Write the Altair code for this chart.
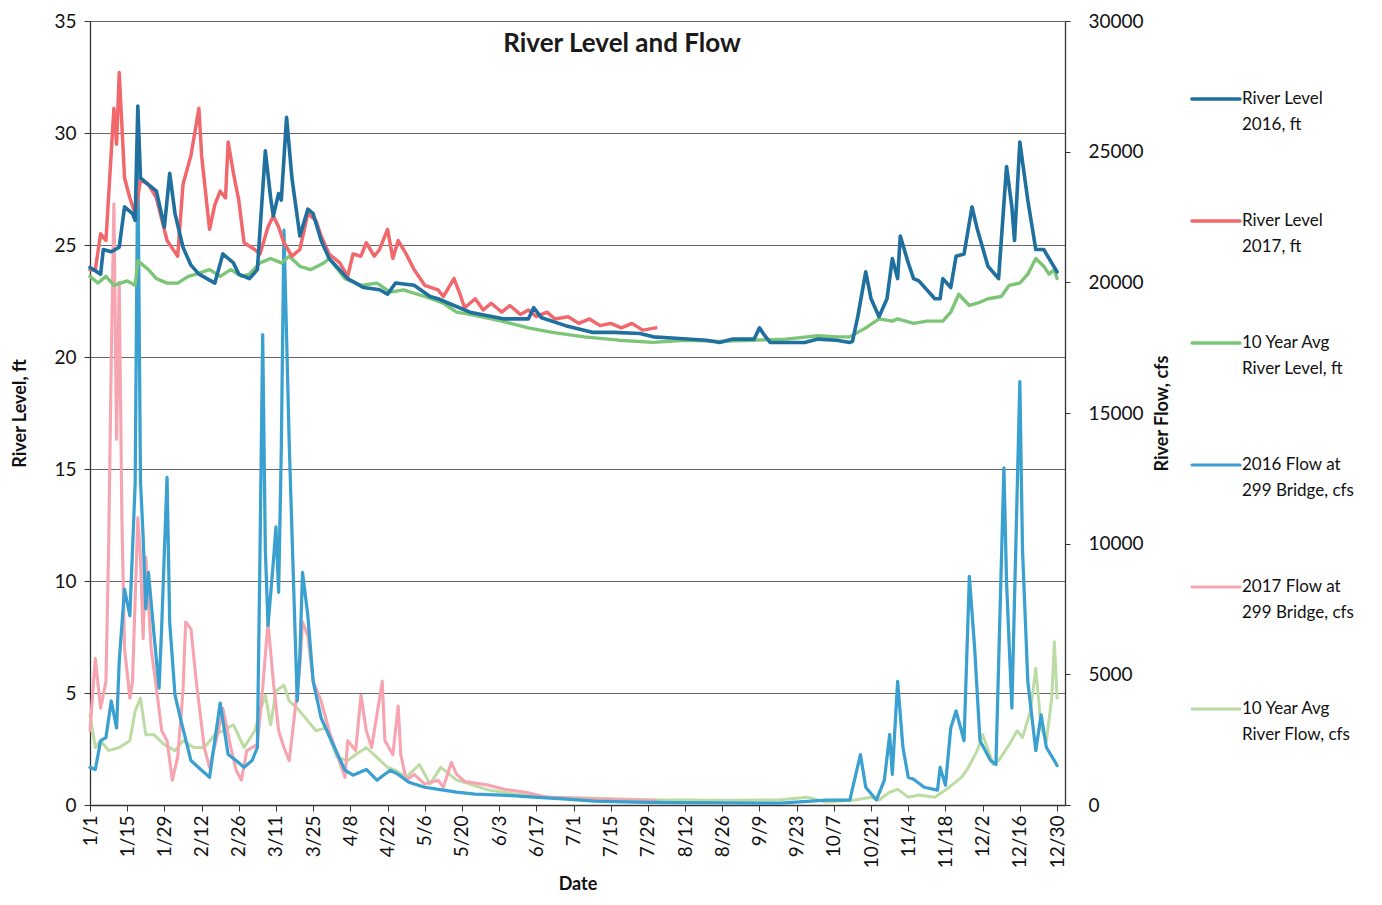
import json
import altair as alt
import pandas as pd

# ---------------- axis text ----------------
TICK_LABELS = ["1/1", "1/15", "1/29", "2/12", "2/26", "3/11", "3/25", "4/8", "4/22",
               "5/6", "5/20", "6/3", "6/17", "7/1", "7/15", "7/29", "8/12", "8/26",
               "9/9", "9/23", "10/7", "10/21", "11/4", "11/18", "12/2", "12/16", "12/30"]
TICK_DAYS = [0, 14, 28, 42, 56, 70, 84, 98, 112, 126, 140, 154, 168, 182, 196, 210,
             224, 238, 252, 266, 280, 294, 308, 322, 336, 350, 364]
LEVEL_TICKS = [0, 5, 10, 15, 20, 25, 30, 35]
FLOW_TICKS = [0, 5000, 10000, 15000, 20000, 25000, 30000]

SERIES = ["River Level|2016, ft", "River Level|2017, ft", "10 Year Avg|River Level, ft",
          "2016 Flow at|299 Bridge, cfs", "2017 Flow at|299 Bridge, cfs", "10 Year Avg|River Flow, cfs"]
COLORS = ["#1f6f9f", "#f0686c", "#7cc576", "#3aa0d0", "#f6a5b0", "#bcdca4"]
WIDTHS = [3.6, 3.0, 2.2, 2.8, 2.2, 2.4]

# ---------------- data (day of year, value) ----------------
level_2016 = [(0, 24.0), (4, 23.7), (5, 24.8), (8, 24.7), (11, 24.9), (13, 26.7), (16, 26.4),
              (17, 26.1), (18, 31.2), (19, 28.0), (22, 27.7), (25, 27.4), (28, 25.8), (30, 28.2),
              (32, 26.4), (35, 24.9), (38, 24.1), (41, 23.7), (47, 23.3), (50, 24.6), (54, 24.2),
              (56, 23.7), (60, 23.5), (63, 23.9), (66, 29.2), (68, 27.1), (69, 26.3), (71, 27.3),
              (72, 27.0), (74, 30.7), (76, 28.0), (79, 25.4), (82, 26.6), (84, 26.4), (87, 25.2),
              (90, 24.4), (97, 23.5), (103, 23.1), (109, 23.0), (112, 22.8), (115, 23.3),
              (122, 23.2), (128, 22.7), (131, 22.6), (135, 22.4), (143, 22.0), (156, 21.7),
              (165, 21.7), (167, 22.2), (170, 21.75), (179, 21.4), (189, 21.1), (197, 21.1),
              (207, 21.05), (212, 20.9), (219, 20.85), (232, 20.75), (237, 20.65), (242, 20.8),
              (250, 20.8), (252, 21.3), (254, 20.95), (256, 20.65), (263, 20.65), (269, 20.65),
              (274, 20.8), (281, 20.75), (286, 20.65), (287, 20.7), (289, 21.8), (292, 23.8),
              (294, 22.6), (297, 21.8), (300, 22.6), (302, 24.4), (304, 23.5), (305, 25.4),
              (308, 24.2), (310, 23.5), (312, 23.4), (318, 22.6), (320, 22.6), (321, 23.5),
              (324, 23.1), (326, 24.5), (329, 24.6), (332, 26.7), (334, 25.7), (338, 24.05),
              (342, 23.5), (345, 28.5), (347, 26.7), (348, 25.2), (350, 29.6), (353, 27.0),
              (356, 24.8), (359, 24.8), (363, 24.0), (364, 23.8)]

level_2017 = [(0, 23.9), (2, 23.9), (4, 25.5), (6, 25.2), (9, 31.1), (10, 29.5), (11, 32.7),
              (13, 28.0), (15, 27.1), (17, 26.4), (19, 27.9), (22, 27.7), (25, 27.1), (29, 25.2),
              (33, 24.5), (35, 27.7), (38, 29.0), (41, 31.1), (42, 29.0), (45, 25.7), (47, 26.8),
              (49, 27.4), (51, 27.1), (52, 29.6), (54, 28.2), (56, 27.0), (58, 25.1), (62, 24.8),
              (64, 24.6), (67, 25.8), (69, 26.3), (71, 25.8), (73, 25.1), (76, 24.5), (79, 24.8),
              (82, 26.4), (85, 26.1), (87, 25.4), (90, 24.6), (94, 24.2), (97, 23.6), (99, 24.6),
              (102, 24.5), (104, 25.1), (107, 24.5), (109, 24.8), (112, 25.7), (114, 24.4),
              (116, 25.2), (119, 24.6), (122, 23.9), (126, 23.2), (131, 23.0), (133, 22.7),
              (137, 23.5), (139, 22.9), (141, 22.2), (145, 22.6), (148, 22.1), (151, 22.4),
              (155, 22.0), (158, 22.3), (162, 21.9), (165, 22.1), (168, 21.8), (172, 22.0),
              (175, 21.7), (180, 21.8), (184, 21.5), (188, 21.7), (192, 21.4), (196, 21.5),
              (200, 21.3), (204, 21.5), (208, 21.2), (213, 21.3)]

level_avg = [(0, 23.6), (3, 23.3), (6, 23.6), (9, 23.2), (14, 23.4), (17, 23.2), (18, 24.3),
             (22, 23.9), (25, 23.5), (29, 23.3), (33, 23.3), (37, 23.6), (40, 23.7), (45, 23.9),
             (49, 23.6), (53, 23.9), (57, 23.6), (60, 23.7), (64, 24.2), (68, 24.4), (72, 24.2),
             (75, 24.5), (79, 24.05), (83, 23.9), (88, 24.2), (90, 24.4), (96, 23.5), (102, 23.2),
             (108, 23.3), (113, 22.9), (118, 23.0), (126, 22.7), (133, 22.4), (138, 22.0),
             (143, 21.9), (155, 21.6), (165, 21.3), (174, 21.1), (186, 20.9), (199, 20.75),
             (212, 20.65), (224, 20.75), (237, 20.7), (250, 20.75), (262, 20.8), (274, 20.95),
             (281, 20.9), (286, 20.9), (292, 21.3), (297, 21.7), (302, 21.6), (304, 21.7),
             (310, 21.5), (315, 21.6), (321, 21.6), (324, 22.0), (327, 22.8), (331, 22.3),
             (334, 22.4), (338, 22.6), (343, 22.7), (346, 23.2), (350, 23.3), (353, 23.7),
             (356, 24.4), (359, 24.05), (361, 23.7), (363, 23.9), (364, 23.5)]

flow_2016 = [(0, 1440), (2, 1360), (4, 2460), (6, 2580), (8, 3980), (10, 2950), (11, 5490),
             (13, 8260), (15, 7240), (16, 9770), (17, 12300), (18, 25000), (19, 12400),
             (20, 10270), (21, 7500), (22, 8900), (24, 6630), (26, 4470), (27, 6860), (29, 12540),
             (30, 7000), (32, 4200), (34, 3330), (38, 1700), (42, 1330), (45, 1060), (49, 3900),
             (52, 1930), (55, 1700), (58, 1440), (61, 1700), (63, 2200), (64, 9770), (65, 18000),
             (66, 9770), (67, 6860), (69, 9280), (70, 10640), (71, 8140), (72, 13560),
             (73, 22000), (75, 13800), (77, 7240), (78, 3980), (79, 5720), (80, 8900), (82, 7240),
             (84, 4730), (87, 3330), (92, 2200), (96, 1330), (99, 1140), (104, 1360), (108, 950),
             (113, 1330), (116, 1170), (120, 870), (126, 680), (133, 570), (138, 490), (145, 420),
             (155, 380), (167, 300), (178, 230), (190, 150), (205, 110), (220, 90), (240, 80),
             (260, 70), (277, 190), (286, 190), (290, 1930), (292, 680), (296, 190), (299, 950),
             (301, 2690), (302, 1170), (304, 4730), (306, 2200), (308, 1060), (310, 985),
             (314, 680), (319, 570), (320, 1440), (322, 760), (324, 2950), (326, 3600),
             (329, 2460), (331, 8750), (333, 5980), (335, 2460), (339, 1700), (341, 1550),
             (344, 12900), (345, 8520), (347, 3710), (350, 16200), (351, 9770), (353, 4730),
             (356, 2080), (358, 3450), (360, 2200), (363, 1700), (364, 1510)]

flow_2017 = [(0, 2840), (2, 5600), (4, 3700), (6, 4730), (7, 9770), (8, 17000), (9, 23000),
             (10, 14000), (11, 20000), (12, 11000), (13, 6000), (15, 4090), (16, 4730),
             (18, 11000), (19, 9500), (20, 6360), (21, 9500), (23, 6000), (25, 4470), (27, 2840),
             (29, 2460), (31, 950), (33, 1820), (35, 4360), (36, 7000), (38, 6740), (40, 4730),
             (43, 2200), (45, 1440), (48, 2690), (50, 3700), (53, 2200), (55, 1330), (57, 950),
             (59, 2080), (63, 2310), (65, 4470), (67, 7000), (69, 4730), (71, 2840), (73, 2200),
             (75, 1700), (77, 3450), (79, 5340), (80, 7000), (82, 6480), (84, 4730), (87, 3980),
             (90, 2840), (93, 1930), (96, 1060), (97, 2460), (100, 2080), (102, 4200),
             (104, 2840), (106, 2200), (108, 3450), (110, 4730), (111, 2460), (114, 1930),
             (116, 3790), (117, 1930), (119, 950), (122, 1170), (126, 800), (131, 950),
             (133, 680), (136, 1630), (138, 1170), (141, 900), (150, 760), (156, 600),
             (164, 490), (172, 300), (185, 250), (200, 200), (213, 180)]

flow_avg = [(0, 3450), (2, 2200), (4, 2460), (7, 2080), (11, 2200), (15, 2460), (17, 3600),
            (19, 4090), (21, 2690), (24, 2690), (28, 2310), (32, 2080), (35, 2460), (39, 2200),
            (43, 2200), (47, 2690), (50, 2840), (54, 3070), (58, 2200), (62, 2840), (64, 3600),
            (66, 4200), (68, 3070), (70, 4360), (73, 4580), (75, 3980), (78, 3700), (82, 3220),
            (85, 2840), (89, 2950), (93, 1820), (97, 1700), (100, 1930), (104, 2200), (108, 1820),
            (112, 1440), (115, 1330), (119, 1060), (124, 1550), (128, 800), (132, 1440),
            (138, 950), (143, 800), (150, 570), (160, 420), (172, 300), (190, 260), (210, 200),
            (240, 180), (260, 200), (270, 300), (277, 110), (288, 190), (294, 300), (297, 190),
            (301, 490), (304, 600), (308, 300), (312, 380), (318, 300), (322, 570), (328, 1060),
            (330, 1330), (334, 2080), (336, 2690), (340, 1550), (342, 1700), (346, 2310),
            (349, 2840), (351, 2580), (354, 3600), (356, 5230), (358, 2950), (360, 2460),
            (362, 4090), (363, 6250), (364, 4090)]


def frame(pairs, name):
    return pd.DataFrame({"day": [p[0] for p in pairs],
                         "value": [p[1] for p in pairs],
                         "series": name})


# draw order: bottom first
levels_df = pd.concat([frame(level_avg, SERIES[2]), frame(level_2017, SERIES[1]),
                       frame(level_2016, SERIES[0])], ignore_index=True)
flows_df = pd.concat([frame(flow_avg, SERIES[5]), frame(flow_2017, SERIES[4]),
                      frame(flow_2016, SERIES[3])], ignore_index=True)
legend_df = pd.DataFrame({"series": SERIES, "rank": list(range(len(SERIES)))})
title_df = pd.DataFrame({"t": ["River Level and Flow"]})

FONT = "Lato"
color_enc = alt.Color("series:N", scale=alt.Scale(domain=SERIES, range=COLORS), legend=None)
width_enc = alt.StrokeWidth("series:N", scale=alt.Scale(domain=SERIES, range=WIDTHS), legend=None)

x_enc = alt.X("day:Q",
              scale=alt.Scale(domain=[0, 367], nice=False, zero=False),
              axis=alt.Axis(values=TICK_DAYS,
                            labelExpr=json.dumps(TICK_LABELS) + "[round(datum.value / 14)]",
                            labelAngle=270, title="Date", grid=False, tickSize=6,
                            labelPadding=4, titlePadding=8))

levels = alt.Chart(levels_df).mark_line(strokeJoin="round", strokeCap="round").encode(
    x=x_enc,
    y=alt.Y("value:Q", scale=alt.Scale(domain=[0, 35], nice=False),
            axis=alt.Axis(orient="left", values=LEVEL_TICKS, title="River Level, ft",
                          grid=True, gridColor="#666666", gridWidth=1, tickSize=6,
                          labelPadding=8, titlePadding=24)),
    color=color_enc,
    strokeWidth=width_enc,
)

flows = alt.Chart(flows_df).mark_line(strokeJoin="round", strokeCap="round").encode(
    x=x_enc,
    y=alt.Y("value:Q", scale=alt.Scale(domain=[0, 30000], nice=False),
            axis=alt.Axis(orient="right", values=FLOW_TICKS, format="d", title="River Flow, cfs",
                          titleAngle=270, titleBaseline="top", grid=False, tickSize=5,
                          labelPadding=18, titlePadding=10)),
    color=color_enc,
    strokeWidth=width_enc,
)

title = alt.Chart(title_df).mark_text(font=FONT, fontSize=26, fontWeight="bold",
                                      color="#1a1a1a", align="center", baseline="middle").encode(
    text="t:N", x=alt.value(532), y=alt.value(23))

LEG_Y0 = 78
leg_y = alt.Y("rank:Q", scale=alt.Scale(domain=[0, 5], range=[LEG_Y0, LEG_Y0 + 5 * 122]), axis=None)
leg_rules = alt.Chart(legend_df).mark_rule(strokeCap="round").encode(
    x=alt.value(1102), x2=alt.value(1150), y=leg_y, color=color_enc, strokeWidth=width_enc)
leg_text = alt.Chart(legend_df).mark_text(font=FONT, fontSize=17, color="#111111", align="left",
                                          baseline="middle", lineBreak="|", lineHeight=26).encode(
    x=alt.value(1152), y=leg_y, text="series:N")

chart = alt.layer(flows, levels, title, leg_rules, leg_text).resolve_scale(
    y="independent"
).properties(
    width=975, height=784, background="white",
    padding={"left": 3, "top": 4, "right": 5, "bottom": 0}
).configure_view(
    strokeWidth=0
).configure_axis(
    labelFont=FONT, titleFont=FONT, labelFontSize=19, titleFontSize=18,
    titleFontWeight="bold", labelColor="#111111", titleColor="#111111",
    domainColor="#333333", tickColor="#333333", domainWidth=1.3
)

chart.save("out.html", embed_options={"renderer": "svg", "actions": False})
